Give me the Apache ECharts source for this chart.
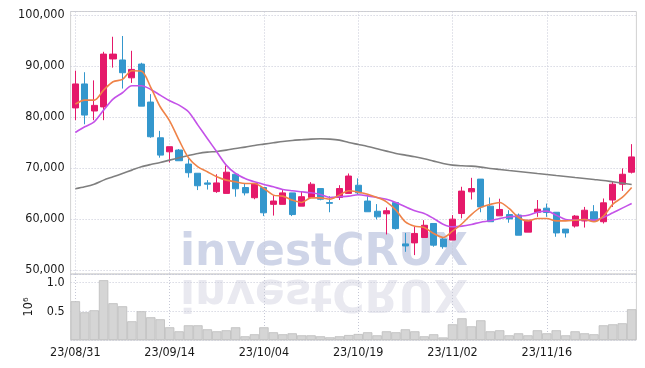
<!DOCTYPE html>
<html>
<head>
<meta charset="utf-8">
<script src="https://cdn.jsdelivr.net/npm/echarts@6/dist/echarts.min.js"></script>
<style>
html,body{margin:0;padding:0;background:#fff;}
#chart{width:645px;height:368px;}
</style>
</head>
<body>
<div id="chart"></div>
<script>
const dates = ['23/08/31','23/09/01','23/09/04','23/09/05','23/09/06','23/09/07','23/09/08','23/09/11','23/09/12','23/09/13',
 '23/09/14','23/09/15','23/09/18','23/09/19','23/09/20','23/09/21','23/09/22','23/09/25','23/09/26','23/09/27',
 '23/10/04','23/10/05','23/10/06','23/10/10','23/10/11','23/10/12','23/10/13','23/10/16','23/10/17','23/10/18',
 '23/10/19','23/10/20','23/10/23','23/10/24','23/10/25','23/10/26','23/10/27','23/10/30','23/10/31','23/11/01',
 '23/11/02','23/11/03','23/11/06','23/11/07','23/11/08','23/11/09','23/11/10','23/11/13','23/11/14','23/11/15',
 '23/11/16','23/11/17','23/11/20','23/11/21','23/11/22','23/11/23','23/11/24','23/11/27','23/11/28','23/11/29'];

const openP  = [81800,86500,81200,82000,91400,91200,87700,90400,82950,75950,
 73200,73550,70800,69000,67100,65400,65050,68800,66200,64200,
 66200,62900,62900,65150,62550,64250,66000,63250,64250,65050,
 66650,63550,61550,61050,63250,55150,55350,56400,59150,56100,
 55900,61100,65350,67850,62550,60650,60900,60800,57450,61350,
 62150,61350,58050,58650,59650,61450,59500,63750,66850,69200];
const closeP = [86500,80400,82300,92350,92350,88700,89350,82150,76150,72550,
 74200,71450,69100,66550,66850,67100,69200,65950,65150,67000,
 61250,63550,65150,60900,64400,66850,63900,63100,66000,68450,
 65150,61450,60450,61650,58150,54750,57200,58800,54900,54600,
 60000,65500,66000,62400,59500,61900,60050,56850,59800,61950,
 61300,57300,57300,60600,61750,59650,63200,66850,68800,72200];
const lowP   = [79400,78600,79400,79400,89700,85600,86700,82150,75950,72050,
 71100,71450,68150,65700,65800,65150,65050,64400,64650,63900,
 60600,60700,62900,60600,62550,64250,63700,61350,63750,65050,
 64900,61450,59950,57000,57950,53600,52950,56400,54600,54200,
 55900,60150,63850,61350,59500,60650,59300,56850,57450,60450,
 60450,56550,56400,58350,58350,59650,59150,62400,65550,68950];
const highP  = [89100,88800,87200,92800,95750,95900,93000,90650,84500,77300,
 74200,73750,71900,69000,67650,68800,70500,69000,67000,67000,
 66200,64700,65700,65150,65350,67250,66000,64500,66650,68950,
 68000,64500,62950,62300,63250,57300,58500,59800,59150,56400,
 60800,66350,68100,67850,64250,64000,61750,61100,59800,63750,
 63050,61350,58050,60800,62400,62750,64050,67300,69950,74700];

const volumes = [677000,484000,519000,1044000,642000,589000,327000,502000,397000,362000,
 222000,152000,257000,257000,187000,152000,170000,222000,65000,100000,
 222000,135000,100000,117000,82000,82000,65000,47000,65000,87000,
 105000,135000,82000,152000,135000,187000,152000,65000,100000,45000,
 274000,379000,239000,344000,152000,170000,82000,117000,82000,170000,
 117000,170000,82000,152000,117000,100000,257000,274000,292000,537000];

const ma5  = [82550,83330,83330,85290,86930,87390,89080,89020,85820,82030,
 79280,75490,72030,70260,69280,68300,67650,67320,67000,67000,
 66010,64710,64510,63730,63270,64180,64180,63920,64710,65560,
 65290,64900,64250,63400,61760,59480,58630,58370,57190,56410,
 57650,59100,60900,62300,62900,63270,62090,60330,59670,60130,
 60130,59670,59670,59800,59930,59480,60590,62940,64250,66210];
const ma10 = [76990,78100,79080,81370,83530,84770,86140,86140,85430,84310,
 83200,82350,81050,78430,75820,73200,70590,68950,67980,67320,
 66800,66340,65820,65560,65360,65160,64840,64250,64380,64510,
 64770,64570,64250,63920,63270,62420,61640,61110,60130,59020,
 58500,58630,58960,59410,59670,60130,60460,60590,60780,61370,
 61570,60780,59930,59800,59930,59800,60330,61240,62160,63070];
const ma60 = [65950,66340,66860,67650,68300,68950,69610,70260,70720,71110,
 71570,72030,72480,72880,73140,73270,73530,73860,74120,74450,
 74710,74970,75230,75420,75560,75690,75750,75690,75490,75030,
 74640,74250,73790,73330,72880,72550,72220,71830,71370,70920,
 70590,70460,70390,70200,69940,69740,69540,69350,69150,68950,
 68760,68560,68370,68170,67980,67780,67580,67320,67060,66800];

const priceTicks = [50000,60000,70000,80000,90000,100000];
const volumeTicks = [500000,1000000];

const candles = dates.map((d,i)=>[openP[i],closeP[i],lowP[i],highP[i]]);

const FONT = "'DejaVu Sans Condensed','DejaVu Sans',sans-serif";
const gridLineStyle = {color:'#c6c8d6', type:[1,2], width:1};

const chart = echarts.init(document.getElementById('chart'), null, {renderer:'canvas'});
const option = {
  animation:false,
  backgroundColor:'#ffffff',
  grid:[
    {left:70.6, right:8.6, top:11.5, height:262.5, show:true, borderColor:'#d2d2d2', borderWidth:1},
    {left:70.6, right:8.6, top:274, height:66, show:true, borderColor:'#d2d2d2', borderWidth:1}
  ],
  xAxis:[
    {type:'category', gridIndex:0, data:dates, boundaryGap:true,
     axisLine:{show:false}, axisTick:{show:false, interval:9}, axisLabel:{show:false, interval:9},
     splitLine:{show:true, interval:9, alignWithLabel:true, lineStyle:gridLineStyle}},
    {type:'category', gridIndex:1, data:dates, boundaryGap:true,
     axisLine:{show:false}, axisTick:{show:false, interval:9},
     axisLabel:{show:true, interval:9, margin:6, color:'#1a1a1a', fontSize:12.5, fontFamily:FONT},
     splitLine:{show:true, interval:9, alignWithLabel:true, lineStyle:gridLineStyle}}
  ],
  yAxis:[
    {type:'value', gridIndex:0, min:49250, max:100700, splitNumber:5,
     axisLine:{show:false}, axisTick:{show:false},
     axisLabel:{margin:6, color:'#1a1a1a', fontSize:12.5, fontFamily:FONT,
       formatter:v=> priceTicks.indexOf(v)>=0 ? v.toLocaleString('en-US') : ''},
     splitLine:{show:true, lineStyle:gridLineStyle}},
    {type:'value', gridIndex:1, min:0, max:1152000, interval:500000,
     name:'10\u2076', nameLocation:'middle', nameRotate:90, nameGap:35,
     nameTextStyle:{color:'#1a1a1a', fontSize:12.5, fontFamily:FONT},
     axisLine:{show:false}, axisTick:{show:false},
     axisLabel:{margin:6, color:'#1a1a1a', fontSize:12.5, fontFamily:FONT,
       formatter:v=> volumeTicks.indexOf(v)>=0 ? (v/1e6).toFixed(1) : ''},
     splitLine:{show:true, lineStyle:gridLineStyle}}
  ],
  graphic:[
    {type:'text', z:-10, left:180, top:232,
     style:{text:'investCRUX', fill:'#cfd5e8', font:"bold 44px 'DejaVu Sans'"}},
    {type:'text', z:-10, x:180, y:313, scaleY:-1,
     style:{text:'investCRUX', fill:'#e9e9f0', font:"bold 44px 'DejaVu Sans'"}}
  ],
  series:[
    {type:'bar', xAxisIndex:1, yAxisIndex:1, data:volumes, barCategoryGap:'0%',
     itemStyle:{color:'#d5d5d5', borderColor:'#bdbdbd', borderWidth:0.8}},
    {type:'candlestick', xAxisIndex:0, yAxisIndex:0, data:candles, barWidth:'70%',
     itemStyle:{color:'#e5196a', color0:'#3497cd', borderColor:'#e5196a', borderColor0:'#3497cd', borderWidth:1}},
    {type:'line', xAxisIndex:0, yAxisIndex:0, data:ma60, showSymbol:false, smooth:0.3,
     lineStyle:{color:'#7f7f7f', width:1.6}, z:3},
    {type:'line', xAxisIndex:0, yAxisIndex:0, data:ma10, showSymbol:false, smooth:0.3,
     lineStyle:{color:'#c452e8', width:1.6}, z:3},
    {type:'line', xAxisIndex:0, yAxisIndex:0, data:ma5, showSymbol:false, smooth:0.3,
     lineStyle:{color:'#ef8348', width:1.6}, z:3}
  ]
};
chart.setOption(option);
</script>
</body>
</html>
